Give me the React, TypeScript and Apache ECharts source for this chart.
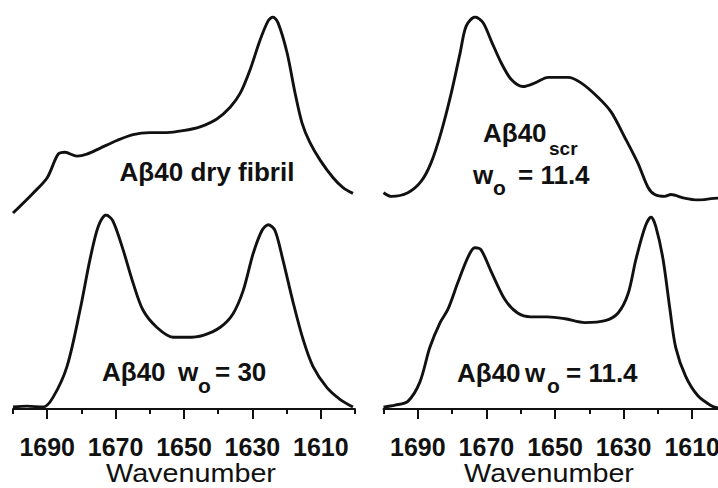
import React, { useEffect, useRef } from "react";
import * as echarts from "echarts";

const xMin = 1600;
const xMax = 1700;
const labeledTicks = [1690, 1670, 1650, 1630, 1610];

const dryFibrilWn = [1700, 1694.2, 1690, 1686.8, 1684.8, 1681.3, 1678.4, 1674.6, 1669.6, 1664.9, 1660, 1655, 1650.3, 1645.3, 1640.4, 1636.5, 1633.6, 1630.7, 1627.8, 1625.4, 1624, 1622.5, 1619.9, 1617.5, 1615.5, 1613.2, 1610.2, 1606.4, 1603.5, 1600.6];
const dryFibrilAbs = [0, 0.10, 0.18, 0.30, 0.31, 0.29, 0.30, 0.33, 0.37, 0.40, 0.41, 0.41, 0.42, 0.44, 0.48, 0.54, 0.61, 0.73, 0.88, 0.98, 1.0, 0.97, 0.82, 0.61, 0.46, 0.36, 0.27, 0.18, 0.13, 0.10];

const scrWn = [1700, 1697.7, 1692.9, 1689.1, 1686.2, 1683.2, 1680.3, 1677.7, 1675.9, 1673.3, 1671, 1668.6, 1665.7, 1662.8, 1659.3, 1655.8, 1652, 1646.2, 1642.4, 1637.4, 1633.6, 1629.6, 1625.8, 1622.9, 1620.9, 1618, 1616.2, 1612.3, 1608.5, 1602.5, 1600];
const scrAbs = [0.04, 0.02, 0.04, 0.10, 0.20, 0.37, 0.58, 0.80, 0.95, 1.0, 0.97, 0.87, 0.75, 0.66, 0.62, 0.64, 0.67, 0.67, 0.64, 0.56, 0.48, 0.34, 0.20, 0.07, 0.03, 0.02, 0.03, 0.01, 0, 0.01, 0.01];

const wo30Wn = [1700, 1695.9, 1691.2, 1688.3, 1684.2, 1680.4, 1677.5, 1675.1, 1672.8, 1670.8, 1667.8, 1664.9, 1662, 1657.9, 1653.2, 1649.1, 1644.4, 1639.5, 1635.7, 1632.7, 1629.8, 1627.2, 1625.4, 1623.4, 1621.1, 1618.1, 1615.2, 1612.3, 1608.2, 1604.4, 1600.6];
const wo30Abs = [0.01, 0.015, 0.01, 0.06, 0.22, 0.51, 0.77, 0.94, 1.0, 0.97, 0.82, 0.65, 0.51, 0.42, 0.37, 0.37, 0.38, 0.42, 0.49, 0.61, 0.80, 0.92, 0.95, 0.92, 0.77, 0.55, 0.36, 0.22, 0.11, 0.05, 0.01];

const wo11Wn = [1700, 1696.6, 1692.9, 1689.4, 1686.5, 1683.5, 1681.2, 1678.3, 1675.4, 1673.4, 1671.6, 1668.7, 1664.6, 1660.9, 1657.1, 1652.2, 1647.1, 1641.3, 1635.4, 1631.6, 1628.7, 1626.4, 1623.7, 1622, 1620.6, 1618.5, 1616.5, 1614.8, 1611.9, 1608.4, 1604.7, 1602.5, 1600];
const wo11Abs = [0.01, 0.02, 0.04, 0.14, 0.32, 0.45, 0.52, 0.66, 0.79, 0.84, 0.83, 0.72, 0.57, 0.50, 0.48, 0.48, 0.47, 0.45, 0.46, 0.50, 0.60, 0.78, 0.95, 1.0, 0.95, 0.78, 0.52, 0.32, 0.17, 0.07, 0.02, 0.005, 0];

const INK = "#111";
const FONT = "'Liberation Sans', Arial, sans-serif";

function txt(text: string, x: number, y: number, size: number, bold = true, align = "left", scaleX = 1) {
  return {
    type: "text",
    x,
    y,
    scaleX,
    style: {
      text,
      fill: INK,
      fontSize: size,
      fontWeight: bold ? "bold" : "normal",
      fontFamily: FONT,
      textAlign: align,
      textVerticalAlign: "middle",
    },
  };
}

function hiddenX(gridIndex: number) {
  return { type: "value", gridIndex, min: xMin, max: xMax, inverse: true, show: false };
}

function axisPair(gridIndex: number) {
  return [
    {
      type: "value",
      gridIndex,
      min: xMin,
      max: xMax,
      interval: 10,
      inverse: true,
      position: "bottom",
      axisLine: { show: true, onZero: false, lineStyle: { color: INK, width: 2 } },
      axisTick: { show: true, length: 5, lineStyle: { color: INK, width: 2 } },
      axisLabel: { show: false },
      splitLine: { show: false },
    },
    {
      type: "value",
      gridIndex,
      min: xMin,
      max: xMax,
      inverse: true,
      position: "bottom",
      axisLine: { show: false, onZero: false },
      axisTick: { show: true, length: 10, customValues: labeledTicks, lineStyle: { color: INK, width: 2 } },
      axisLabel: {
        show: true,
        customValues: labeledTicks,
        formatter: (v: number) => String(v),
        hideOverlap: false,
        fontSize: 25,
        fontWeight: "bold",
        fontFamily: FONT,
        color: INK,
        margin: 25,
      },
      splitLine: { show: false },
    },
  ];
}

function hiddenY(gridIndex: number) {
  return { type: "value", gridIndex, min: 0, max: 1, show: false, splitLine: { show: false } };
}

function line(wn: number[], abs: number[], xAxisIndex: number, yAxisIndex: number) {
  return {
    type: "line",
    xAxisIndex,
    yAxisIndex,
    data: wn.map((w, i) => [w, abs[i]]),
    showSymbol: false,
    smooth: 0.3,
    lineStyle: { color: INK, width: 2.9 },
    silent: true,
  };
}

export default function App() {
  const ref = useRef<HTMLDivElement>(null);
  useEffect(() => {
    if (!ref.current) return;
    const chart = echarts.init(ref.current, null, { renderer: "svg" });
    const g = { outerBoundsMode: "none", containLabel: false };
    const option = {
      animation: false,
      backgroundColor: "#fff",
      grid: [
        { ...g, left: 13, width: 342, top: 17, height: 196 },
        { ...g, left: 383.5, width: 343, top: 17, height: 183 },
        { ...g, left: 13, width: 342, top: 215, height: 194 },
        { ...g, left: 383.5, width: 343, top: 217, height: 192 },
      ],
      xAxis: [hiddenX(0), hiddenX(1), ...axisPair(2), ...axisPair(3)],
      yAxis: [hiddenY(0), hiddenY(1), hiddenY(2), hiddenY(3)],
      series: [
        line(dryFibrilWn, dryFibrilAbs, 0, 0),
        line(scrWn, scrAbs, 1, 1),
        line(wo30Wn, wo30Abs, 2, 2),
        line(wo11Wn, wo11Abs, 4, 3),
      ],
      graphic: [
        txt("Aβ40 dry fibril", 207, 172, 26, true, "center"),
        txt("Aβ40", 483, 133, 26),
        txt("scr", 549, 148, 19),
        txt("w", 473, 175, 26),
        txt("o", 493, 187, 21),
        txt("= 11.4", 518, 175, 26),
        txt("Aβ40", 102, 372, 26),
        txt("w", 178, 372, 26),
        txt("o", 198, 385, 21),
        txt("= 30", 215, 372, 26),
        txt("Aβ40", 457, 373, 26),
        txt("w", 525, 373, 26),
        txt("o", 547, 385, 21),
        txt("= 11.4", 566, 373, 26),
        txt("Wavenumber", 191, 474, 25, false, "center", 1.15),
        txt("Wavenumber", 549, 474, 25, false, "center", 1.15),
      ],
    };
    chart.setOption(option as any);
    return () => chart.dispose();
  }, []);
  return (
    <div
      ref={ref}
      style={{ position: "fixed", left: 0, top: 0, width: 718, height: 488, background: "#fff" }}
    />
  );
}
